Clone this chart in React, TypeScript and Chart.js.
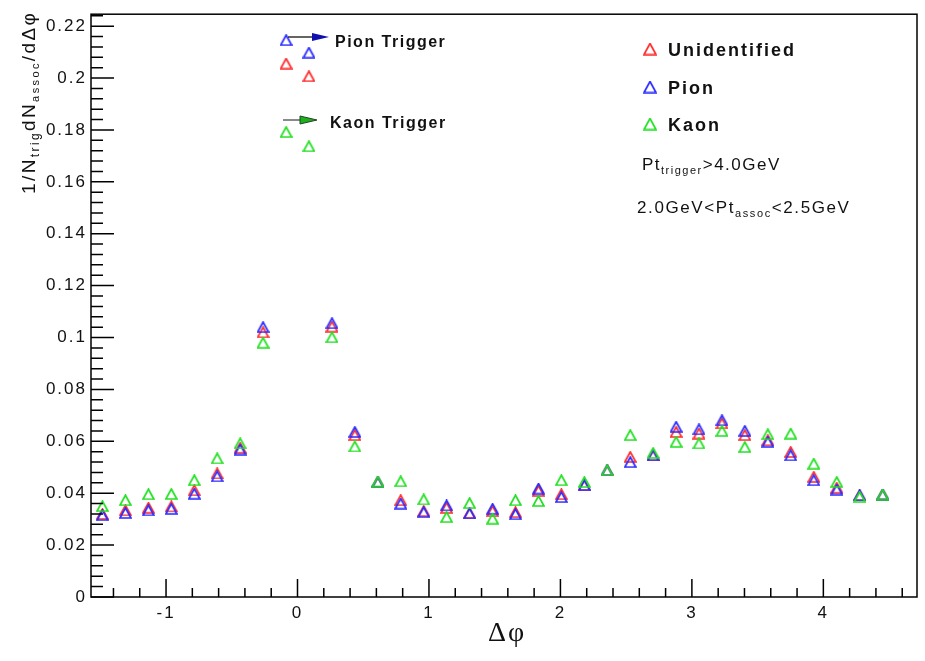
import React, { useEffect, useRef } from 'react';
import { Chart, registerables } from 'chart.js';

Chart.register(...registerables);

// Bin centres of delta-phi (rad)
const dphi = [
  -1.484, -1.309, -1.134, -0.96, -0.785, -0.611, -0.436, -0.262, -0.087,
  0.087, 0.262, 0.436, 0.611, 0.785, 0.96, 1.134, 1.309, 1.484, 1.658,
  1.833, 2.007, 2.182, 2.356, 2.531, 2.705, 2.88, 3.054, 3.229, 3.403,
  3.578, 3.752, 3.927, 4.102, 4.276, 4.451,
];

const unidentified = [
  0.032, 0.0334, 0.0344, 0.0349, 0.0411, 0.0476, 0.0575, 0.102, 0.2056,
  0.2007, 0.1042, 0.0624, 0.0443, 0.0373, 0.0331, 0.0344, 0.0324, 0.0331, 0.0327,
  0.0409, 0.0396, 0.0431, 0.0488, 0.054, 0.0546, 0.0636, 0.063, 0.0669, 0.0624,
  0.0604, 0.0559, 0.0463, 0.0421, 0.0392, 0.0395,
];

const pion = [
  0.0315, 0.0324, 0.0334, 0.034, 0.0398, 0.0465, 0.0568, 0.104, 0.2146,
  0.2098, 0.1055, 0.0636, 0.0443, 0.036, 0.0327, 0.0353, 0.0322, 0.034, 0.0319,
  0.0418, 0.0385, 0.0431, 0.0488, 0.052, 0.0546, 0.0656, 0.0646, 0.0681, 0.064,
  0.0598, 0.0546, 0.045, 0.0414, 0.0392, 0.0395,
];

const kaon = [
  0.035, 0.0373, 0.0396, 0.0397, 0.045, 0.0534, 0.0592, 0.098, 0.1792,
  0.1737, 0.1001, 0.058, 0.0445, 0.0446, 0.0376, 0.0308, 0.0362, 0.0302, 0.0373,
  0.037, 0.045, 0.0443, 0.0488, 0.0624, 0.0555, 0.0598, 0.0592, 0.064, 0.0578,
  0.0627, 0.063, 0.0514, 0.0443, 0.0386, 0.0395,
];

const seriesNames = ['Unidentified', 'Pion', 'Kaon'];
const seriesColors = ['#ff2a2a', '#2a2aff', '#22e022'];

const xTickValues = [-1, 0, 1, 2, 3, 4];
const yTickValues = [0, 0.02, 0.04, 0.06, 0.08, 0.1, 0.12, 0.14, 0.16, 0.18, 0.2, 0.22];

const X_MIN = -Math.PI / 2;
const X_MAX = (3 * Math.PI) / 2;
const Y_MIN = 0;
const Y_MAX = 0.2246;

const SANS = '"Liberation Sans", Arial, Helvetica, sans-serif';
const SERIF = '"Liberation Serif", "Times New Roman", serif';

function makeTriangle(color: string, w: number, h: number, lw: number): HTMLCanvasElement {
  const c = document.createElement('canvas');
  c.width = w;
  c.height = h;
  const g = c.getContext('2d')!;
  g.strokeStyle = color;
  g.lineWidth = lw;
  g.lineJoin = 'miter';
  g.beginPath();
  g.moveTo(w / 2, 1);
  g.lineTo(w - 1, h - 1);
  g.lineTo(1, h - 1);
  g.closePath();
  g.stroke();
  return c;
}

type Part = { t: string; size: number; bold?: boolean; dy?: number; family?: string };

function drawRich(ctx: any, parts: Part[], x: number, y: number, spacing: number) {
  let cx = x;
  ctx.letterSpacing = spacing + 'px';
  for (const p of parts) {
    ctx.font = `${p.bold ? 'bold ' : ''}${p.size}px ${p.family || SANS}`;
    ctx.fillText(p.t, cx, y + (p.dy || 0));
    cx += ctx.measureText(p.t).width;
  }
}

export default function App() {
  const ref = useRef<HTMLCanvasElement>(null);

  useEffect(() => {
    const canvas = ref.current!;
    const tris = seriesColors.map((c) => makeTriangle(c, 13, 12, 1.7));
    const legendTris = seriesColors.map((c) => makeTriangle(c, 14, 13, 1.7));
    const series = [unidentified, pion, kaon];

    const decor = {
      id: 'rootDecor',
      beforeDraw(chart: any) {
        chart.ctx.letterSpacing = '2px';
      },
      afterDraw(chart: any) {
        const ctx = chart.ctx;
        const { left, right, top, bottom } = chart.chartArea;
        const xs = chart.scales.x;
        const ys = chart.scales.y;
        ctx.save();
        ctx.letterSpacing = '0px';
        ctx.strokeStyle = '#000';
        ctx.lineWidth = 1.5;
        ctx.strokeRect(left, top, right - left, bottom - top);
        ctx.beginPath();
        for (let k = 0; k <= 60; k++) {
          const v = k * 0.004;
          if (v > ys.max) break;
          const py = ys.getPixelForValue(v);
          const len = k % 5 === 0 ? 23 : 12;
          ctx.moveTo(left, py);
          ctx.lineTo(left + len, py);
        }
        for (let k = -8; k <= 24; k++) {
          const v = k * 0.2;
          if (v < xs.min || v > xs.max) continue;
          const px = xs.getPixelForValue(v);
          const len = k % 5 === 0 ? 18 : 9;
          ctx.moveTo(px, bottom);
          ctx.lineTo(px, bottom - len);
        }
        ctx.stroke();

        ctx.fillStyle = '#111';
        ctx.textAlign = 'left';
        ctx.textBaseline = 'alphabetic';

        // Legend
        const legendY = [49, 87, 124];
        for (let i = 0; i < 3; i++) {
          ctx.drawImage(legendTris[i], 650 - 7, legendY[i] - 6.5);
          drawRich(ctx, [{ t: seriesNames[i], size: 18, bold: true }], 668, legendY[i] + 7, 2);
        }
        drawRich(
          ctx,
          [
            { t: 'Pt', size: 17 },
            { t: 'trigger', size: 11, dy: 4 },
            { t: '>4.0GeV', size: 17 },
          ],
          642,
          170,
          1.5
        );
        drawRich(
          ctx,
          [
            { t: '2.0GeV<Pt', size: 17 },
            { t: 'assoc', size: 11, dy: 4 },
            { t: '<2.5GeV', size: 17 },
          ],
          637,
          213,
          1.6
        );

        // Trigger annotations
        ctx.strokeStyle = '#111';
        ctx.lineWidth = 1.3;
        ctx.beginPath();
        ctx.moveTo(288, 37);
        ctx.lineTo(314, 37);
        ctx.stroke();
        ctx.fillStyle = '#1010b0';
        ctx.beginPath();
        ctx.moveTo(329, 37);
        ctx.lineTo(312, 33);
        ctx.lineTo(312, 41);
        ctx.closePath();
        ctx.fill();

        ctx.strokeStyle = '#8a8a8a';
        ctx.lineWidth = 2;
        ctx.beginPath();
        ctx.moveTo(283, 120);
        ctx.lineTo(303, 120);
        ctx.stroke();
        ctx.fillStyle = '#1eb01e';
        ctx.strokeStyle = '#234423';
        ctx.lineWidth = 1;
        ctx.beginPath();
        ctx.moveTo(317, 120);
        ctx.lineTo(300, 116);
        ctx.lineTo(300, 124);
        ctx.closePath();
        ctx.fill();
        ctx.stroke();

        ctx.fillStyle = '#111';
        drawRich(ctx, [{ t: 'Pion Trigger', size: 16, bold: true }], 335, 47, 1.5);
        drawRich(ctx, [{ t: 'Kaon Trigger', size: 16, bold: true }], 330, 128, 1.5);

        // Y title
        ctx.save();
        ctx.translate(35, 194);
        ctx.rotate(-Math.PI / 2);
        drawRich(
          ctx,
          [
            { t: '1/N', size: 19 },
            { t: 'trig', size: 12, dy: 4 },
            { t: 'dN', size: 19 },
            { t: 'assoc', size: 11, dy: 4 },
            { t: '/d\u0394\u03c6', size: 19 },
          ],
          0,
          0,
          2.4
        );
        ctx.restore();

        // X title
        ctx.letterSpacing = '2px';
        ctx.font = `28px ${SERIF}`;
        ctx.textAlign = 'center';
        ctx.fillText('\u0394\u03c6', 507, 641);
        ctx.restore();
      },
    };

    const chart = new Chart(canvas, {
      type: 'scatter',
      data: {
        datasets: series.map((vals, i) => ({
          label: seriesNames[i],
          data: dphi.map((x, j) => ({ x, y: vals[j] })),
          pointStyle: tris[i] as any,
          pointRadius: 6,
          borderWidth: 0,
          showLine: false,
          order: 3 - i,
        })),
      },
      options: {
        animation: false,
        responsive: false,
        devicePixelRatio: 1,
        events: [],
        layout: { padding: { top: 13, right: 8, left: 0, bottom: 0 } },
        plugins: { legend: { display: false }, tooltip: { enabled: false } },
        scales: {
          x: {
            type: 'linear',
            min: X_MIN,
            max: X_MAX,
            afterBuildTicks: (s: any) => {
              s.ticks = xTickValues.map((v) => ({ value: v }));
            },
            afterFit: (s: any) => {
              s.height = 64;
            },
            grid: { display: false, drawTicks: false },
            border: { display: false },
            ticks: {
              font: { family: SANS, size: 17 },
              color: '#111',
              padding: 6,
              autoSkip: false,
              maxRotation: 0,
              callback: (v: any) => String(v),
            },
          },
          y: {
            type: 'linear',
            min: Y_MIN,
            max: Y_MAX,
            afterBuildTicks: (s: any) => {
              s.ticks = yTickValues.map((v) => ({ value: v }));
            },
            afterFit: (s: any) => {
              s.width = 91;
            },
            grid: { display: false, drawTicks: false },
            border: { display: false },
            ticks: {
              font: { family: SANS, size: 17 },
              color: '#111',
              padding: 4,
              autoSkip: false,
              callback: (v: any) => String(Number(Number(v).toFixed(3))),
            },
          },
        },
      },
      plugins: [decor],
    });

    return () => chart.destroy();
  }, []);

  return (
    <div style={{ position: 'fixed', left: 0, top: 0, width: 925, height: 661, background: '#fff' }}>
      <canvas ref={ref} width={925} height={661} style={{ display: 'block', width: 925, height: 661 }} />
    </div>
  );
}
